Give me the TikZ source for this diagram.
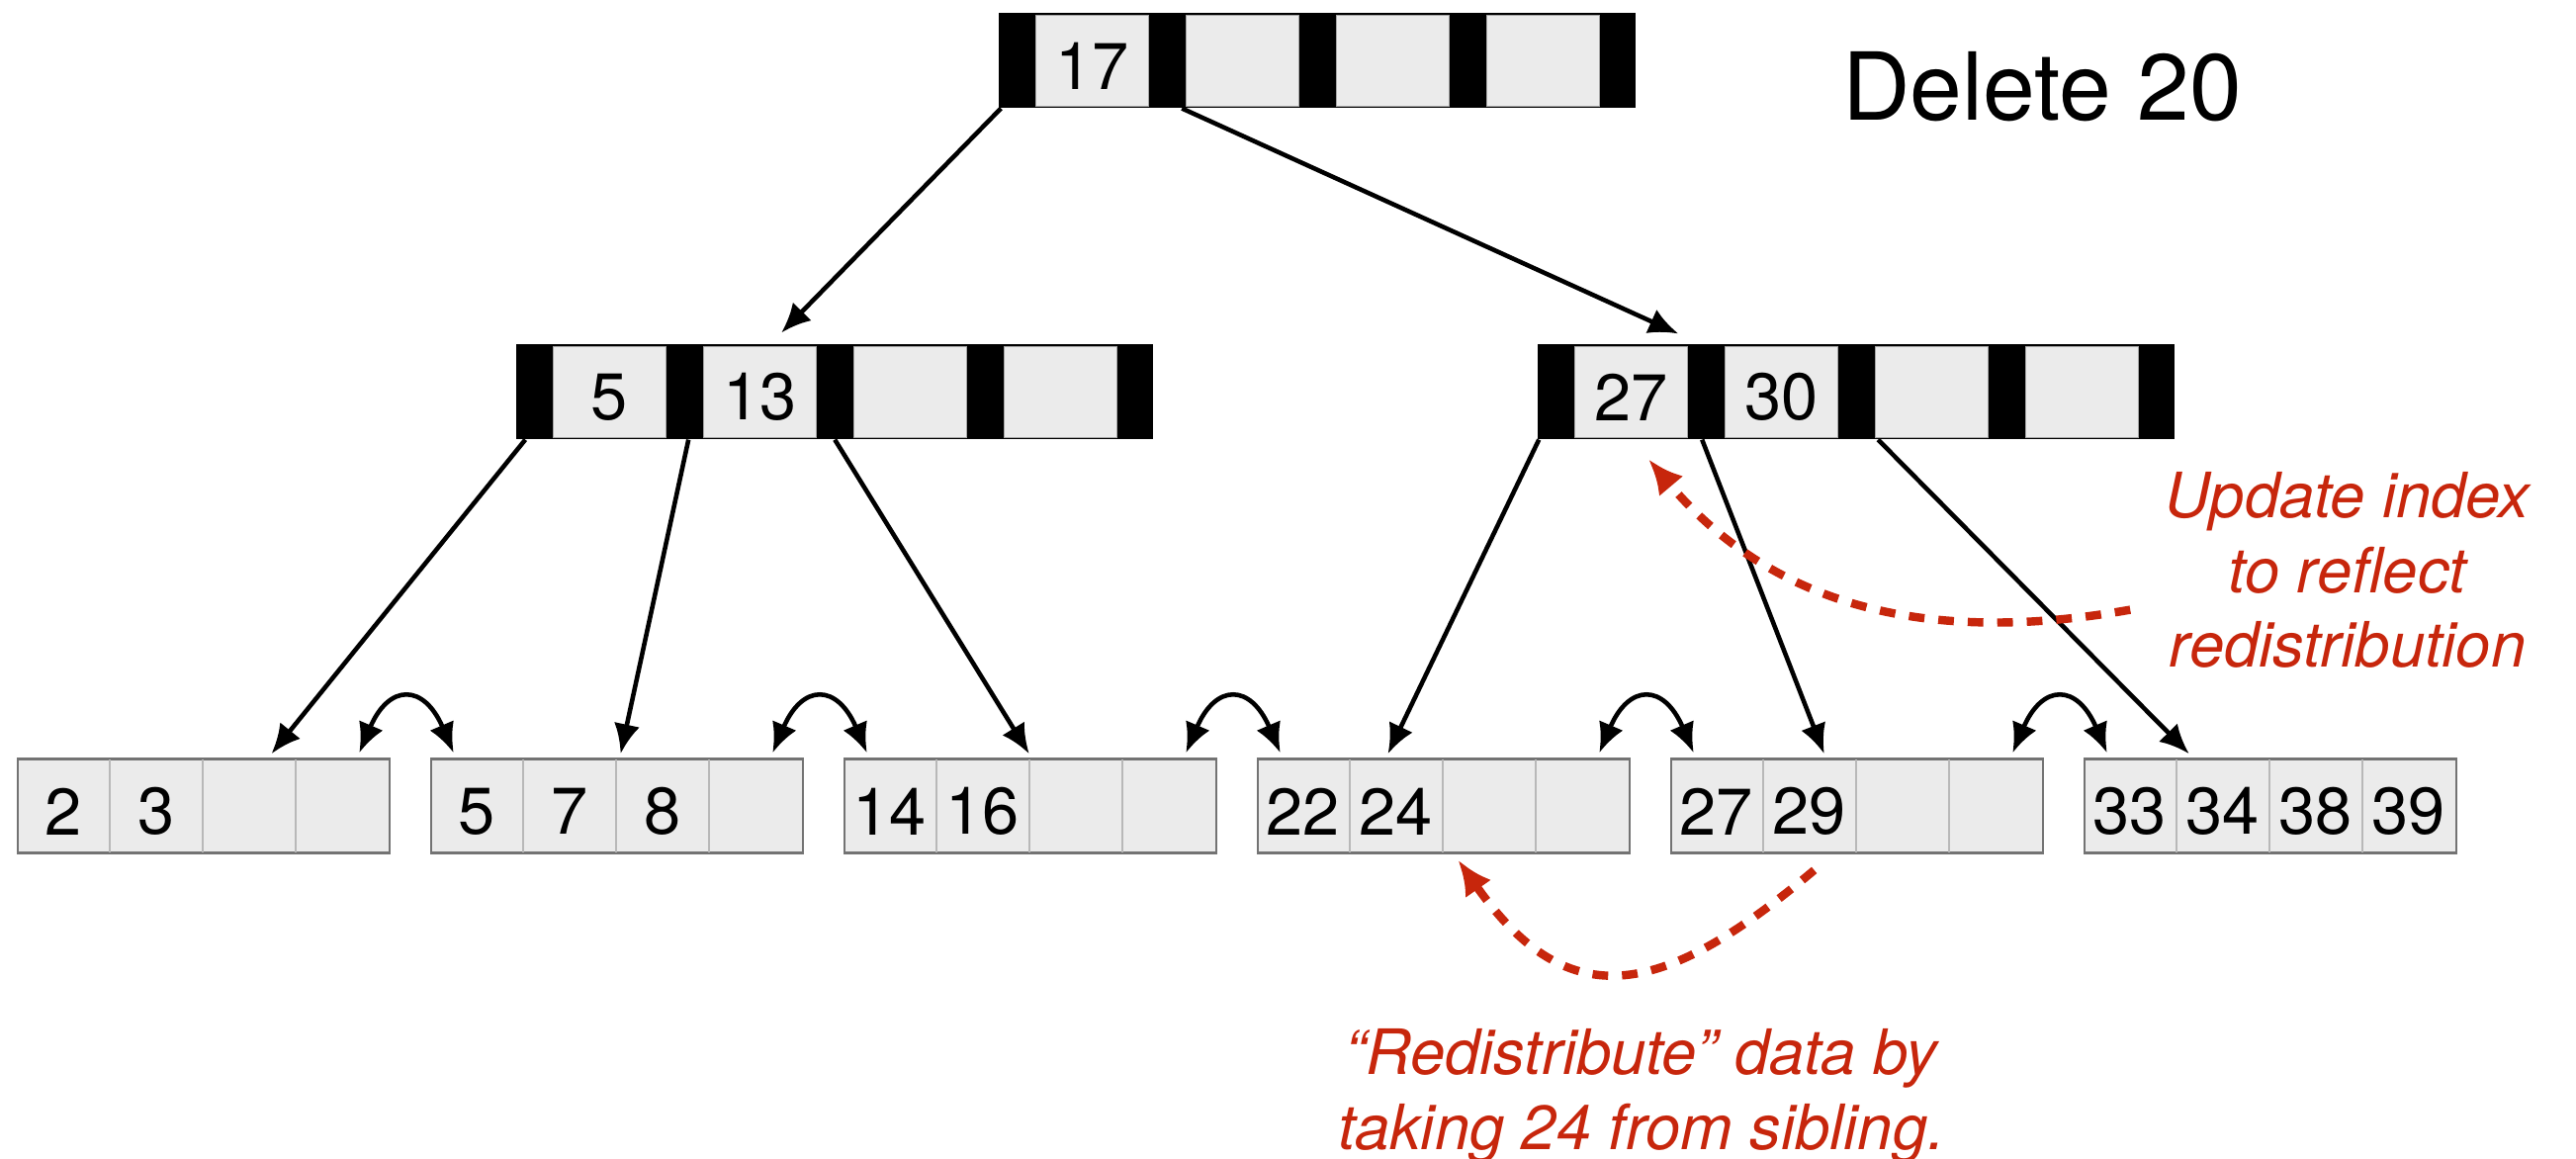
\documentclass[tikz,border=0pt]{standalone}
\usepackage{fontspec}
\setmainfont{TeX Gyre Heros}
\usepackage{tikz}
\usetikzlibrary{calc}
\usetikzlibrary{arrows.meta}
\definecolor{cellgray}{RGB}{235,235,235}
\definecolor{notered}{RGB}{199,38,12}

\begin{document}
\begin{tikzpicture}[x=0.02cm,y=-0.02cm,>={Latex[length=17pt,width=15pt]},
  inode/.style={rectangle,fill=black,inner sep=0pt,minimum width=12.9cm,minimum height=1.93cm},
  ikey/.style={rectangle,fill=cellgray,draw=black!35,line width=0.5pt,inner sep=0pt,minimum width=2.28cm,minimum height=1.84cm},
  leaf/.style={rectangle,fill=cellgray,draw=black!55,line width=1.6pt,inner sep=0pt,minimum width=7.52cm,minimum height=1.9cm},
  divider/.style={draw=black!28,line width=1pt,shorten >=0.8pt,shorten <=0.8pt},
  num/.style={font=\fontsize{38}{40}\selectfont,inner sep=0pt,yshift=-0.11cm},
  pointer/.style={->,line width=2.6pt},
  sibling/.style={<->,line width=2.6pt},
  note/.style={-{Latex[length=20pt,width=18pt]},notered,line width=4.8pt,dash pattern=on 9pt off 8pt},
  notetext/.style={notered,font=\itshape\fontsize{36}{43}\selectfont,align=center,inner sep=0pt}]

\useasboundingbox (0,0) rectangle (2605,1172);

% index nodes
\node [inode] (root) at (1332,61) {};
\node [inode] (lidx) at (844,396) {};
\node [inode] (ridx) at (1877,396) {};
\foreach \nd in {root,lidx,ridx}
  \foreach \k in {1,...,4}
    \node [ikey] (\nd\k) at ($(\nd.west)+({152*\k-57},0)$) {};

\node [num] at (root1) {17};
\node [num] at (lidx1) {5};
\node [num] at (lidx2) {13};
\node [num] at (ridx1) {27};
\node [num] at (ridx2) {30};

% leaves
\foreach \n/\x in {1/18,2/436,3/854,4/1272,5/1690,6/2108}
  \node [leaf] (leaf\n) at (\x+188,815) {};
\foreach \n in {1,...,6}
  \foreach \c in {1,2,3}
    \draw [divider] ($(leaf\n.north west)+(94*\c,0)$) -- ($(leaf\n.south west)+(94*\c,0)$);
\foreach \n/\c/\v in {1/1/2,1/2/3,2/1/5,2/2/7,2/3/8,3/1/14,3/2/16,4/1/22,4/2/24,5/1/27,5/2/29,6/1/33,6/2/34,6/3/38,6/4/39}
  \node [num] at ($(leaf\n.west)+({94*\c-47},0)$) {\v};

\draw [pointer] ($(root.south west)+(3,0)$) -- ($(lidx.north west)+(269,-11)$);
\draw [pointer] ($(root.south west)+(186,0)$) -- ($(ridx.north west)+(143,-10)$);

\draw [pointer] ($(lidx.south west)+(10,0)$) -- ($(leaf1.north west)+(258,-4)$);
\draw [pointer] ($(lidx.south west)+(175,0)$) -- ($(leaf2.north west)+(193,-4)$);
\draw [pointer] ($(lidx.south west)+(323,0)$) -- ($(leaf3.north west)+(188,-4)$);
\draw [pointer] ($(ridx.south west)+(2,0)$) -- ($(leaf4.north west)+(133,-4)$);
\draw [pointer] ($(ridx.south west)+(167,0)$) -- ($(leaf5.north west)+(156,-4)$);
\draw [pointer] ($(ridx.south west)+(345,0)$) -- ($(leaf6.north west)+(107,-4)$);

\foreach \a/\b in {1/2,2/3,3/4,4/5,5/6}
  \draw [sibling] ($(leaf\a.north east)+(-32,-5)$) .. controls +(30,-70) and +(-30,-70) .. ($(leaf\b.north west)+(24,-5)$);

\node [font=\fontsize{54}{60}\selectfont,anchor=base,inner sep=0pt] (title) at (2065,122) {Delete 20};

\node [notetext,anchor=north] (indexnote) at (2374,477) {Update index\\to reflect\\redistribution};
\node [notetext,anchor=north] (movenote) at (1660,1040) {“Redistribute” data by\\taking 24 from sibling.};

\draw [note] ($(leaf5.south west)+(146,16)$) .. controls +(-151,127) and +(113,161) .. ($(leaf4.south west)+(204,6)$);
\draw [note] ($(ridx.south west)+(600,172)$) .. controls +(-197,35) and +(129,153) .. ($(ridx.south west)+(113,20)$);

\end{tikzpicture}
\end{document}
